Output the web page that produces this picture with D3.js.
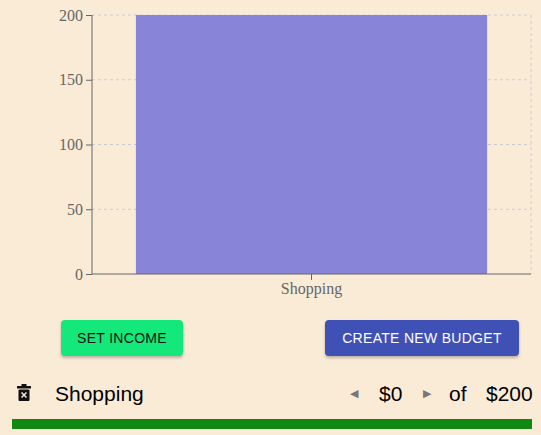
<!DOCTYPE html>
<html><head><meta charset="utf-8">
<script src="https://d3js.org/d3.v7.min.js"></script>
<style>
body{margin:0;background:#faebd7;width:541px;height:435px;overflow:hidden;font-family:"Liberation Sans",Arial,sans-serif;position:relative}
.btn{position:absolute;border-radius:4px;font-size:14px;letter-spacing:0.3px;display:flex;align-items:center;justify-content:center;box-shadow:0 2px 3px rgba(0,0,0,0.25)}
.row{position:absolute;font-size:21px;color:#000}
</style></head><body>
<svg id="chart" width="541" height="305" style="position:absolute;left:0;top:0"></svg>
<div class="btn" style="left:61px;top:320px;width:122px;height:36px;background:#14e87a;color:#111">SET INCOME</div>
<div class="btn" style="left:325px;top:320px;width:194px;height:36px;background:#3f51b5;color:#fff">CREATE NEW BUDGET</div>
<div id="bottom"></div>
<script>
const categories = ["Shopping"];
const budgets = [200];
const spent = [0];
const yTicks = [0, 50, 100, 150, 200];

const svg = d3.select("#chart");
const m = {left: 92, right: 531, top: 15, bottom: 274};
const x = d3.scaleBand().domain(categories).range([m.left, m.right]).paddingInner(0.2).paddingOuter(0.1);
const y = d3.scaleLinear().domain([0, 200]).range([m.bottom, m.top]);

// grid
svg.append("g").selectAll("line").data(yTicks.slice(1)).enter().append("line")
  .attr("x1", m.left).attr("x2", m.right).attr("y1", d => y(d)).attr("y2", d => y(d))
  .attr("stroke", "#ccc").attr("stroke-dasharray", "3 3");
svg.append("line").attr("x1", m.right).attr("x2", m.right).attr("y1", m.top).attr("y2", m.bottom)
  .attr("stroke", "#ccc").attr("stroke-dasharray", "3 3");

svg.selectAll("rect").data(categories).enter().append("rect")
  .attr("x", d => x(d)).attr("width", x.bandwidth())
  .attr("y", (d, i) => y(budgets[i])).attr("height", (d, i) => y(0) - y(budgets[i]))
  .attr("fill", "#8884d8");

const ya = svg.append("g").attr("transform", `translate(${m.left},0)`)
  .call(d3.axisLeft(y).tickValues(yTicks).tickSize(6).tickPadding(3));
const xa = svg.append("g").attr("transform", `translate(0,${m.bottom})`)
  .call(d3.axisBottom(x).tickSize(6).tickPadding(3));
[ya, xa].forEach(a => {
  a.selectAll("path,line").attr("stroke", "#666");
  a.selectAll("text").attr("fill", "#666").style("font-family", "'Liberation Serif',Times,serif").style("font-size", "16px");
  a.select(".domain").attr("d", a === ya ? `M0,${m.top}V${m.bottom}` : `M${m.left},0H${m.right}`);
});

const b = d3.select("#bottom");
categories.forEach((c, i) => {
  const top = 382;
  // trash icon
  const ic = b.append("svg").style("position", "absolute").style("left", "17px").style("top", "384px")
    .attr("width", 14).attr("height", 18);
  ic.append("rect").attr("x", 0).attr("y", 2).attr("width", 14).attr("height", 2.5).attr("fill", "#111");
  ic.append("rect").attr("x", 4.5).attr("y", 0).attr("width", 5).attr("height", 2.5).attr("fill", "#111");
  ic.append("rect").attr("x", 1.5).attr("y", 5.5).attr("width", 11).attr("height", 11.5).attr("rx", 1).attr("fill", "#111");
  ic.append("path").attr("d", "M4.5,8.5L9.5,13.5M9.5,8.5L4.5,13.5").attr("stroke", "#faebd7").attr("stroke-width", 1.5);
  b.append("div").attr("class", "row").style("left", "55px").style("top", top + "px").text(c);
  b.append("div").attr("class", "row").style("left", "350px").style("top", (top + 5) + "px").style("font-size", "11px").style("color", "#777").text("◀");
  b.append("div").attr("class", "row").style("left", "379px").style("top", top + "px").text("$" + spent[i]);
  b.append("div").attr("class", "row").style("left", "423px").style("top", (top + 5) + "px").style("font-size", "11px").style("color", "#777").text("▶");
  b.append("div").attr("class", "row").style("left", "449px").style("top", top + "px").text("of");
  b.append("div").attr("class", "row").style("left", "486px").style("top", top + "px").text("$" + budgets[i]);
  b.append("div").style("position", "absolute").style("left", "12px").style("top", "419px").style("width", "520px").style("height", "10px").style("background", "#118811");
});
</script></body></html>
